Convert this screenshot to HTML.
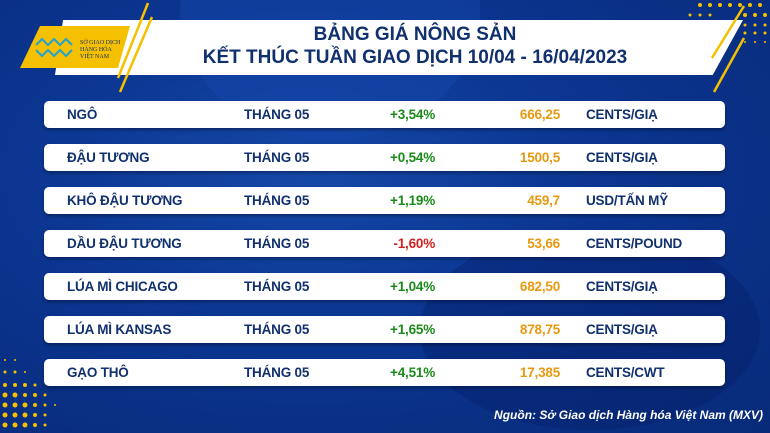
<!DOCTYPE html>
<html><head><meta charset="utf-8"><style>
html,body{margin:0;width:770px;height:433px;overflow:hidden;font-family:"Liberation Sans",sans-serif;}
.bg{position:absolute;left:0;top:0;width:770px;height:433px;background:radial-gradient(ellipse at 40% 40%,#1448a8 0%,#0b3590 45%,#082a78 100%);overflow:hidden}
.blob{position:absolute;border-radius:50%;background:rgba(20,70,170,0.5)}
.row{position:absolute;left:44px;width:681px;height:27px;background:#fff;border-radius:5px;box-shadow:0 2px 3px rgba(0,0,0,.35);font-weight:bold;font-size:13.5px;color:#11306e;letter-spacing:-0.2px}
.row span{position:absolute;top:6px;white-space:nowrap}
.n{left:23px}.t{left:200px}.p{right:290px;color:#1a8a1a}.v{right:165px;color:#e69a10}.u{left:542px}
.neg{color:#d42020!important}
.title{position:absolute;left:55px;top:20px;width:688px;height:55px;background:#fff;clip-path:polygon(0 100%,8px 0,100% 0,95.6% 100%)}
.tt{position:absolute;left:140px;width:550px;text-align:center;color:#11306e;font-weight:bold;font-size:19px}
</style></head><body><div class="bg">
<div class="blob" style="left:180px;top:-120px;width:300px;height:260px"></div>
<div class="blob" style="left:420px;top:230px;width:340px;height:200px;background:rgba(5,30,100,0.35)"></div>
<svg width="770" height="433" style="position:absolute;left:0;top:0">
<g fill="#f5c000">
<circle cx="700" cy="5" r="2"/><circle cx="710" cy="5" r="2"/><circle cx="720" cy="5" r="2"/><circle cx="730" cy="5" r="2"/><circle cx="740" cy="5" r="2"/><circle cx="750" cy="5" r="2"/><circle cx="760" cy="5" r="2"/>
<circle cx="690" cy="15" r="1.5"/><circle cx="700" cy="15" r="1.5"/><circle cx="710" cy="15" r="1.5"/><circle cx="745" cy="15" r="2"/><circle cx="755" cy="15" r="2"/><circle cx="765" cy="15" r="2"/>
<circle cx="745" cy="25" r="1.5"/><circle cx="755" cy="25" r="1.5"/><circle cx="765" cy="25" r="1.5"/><circle cx="745" cy="33" r="1.5"/><circle cx="755" cy="33" r="1.5"/><circle cx="765" cy="33" r="1.5"/>
<circle cx="745" cy="42" r="1"/><circle cx="755" cy="42" r="1"/><circle cx="765" cy="42" r="1"/>
<circle cx="5" cy="385" r="2"/><circle cx="15" cy="385" r="2"/><circle cx="25" cy="385" r="2"/><circle cx="35" cy="385" r="1.5"/>
<circle cx="5" cy="395" r="2.5"/><circle cx="15" cy="395" r="2.5"/><circle cx="25" cy="395" r="2"/><circle cx="35" cy="395" r="2"/><circle cx="45" cy="395" r="1.5"/>
<circle cx="5" cy="405" r="2.5"/><circle cx="15" cy="405" r="2.5"/><circle cx="25" cy="405" r="2.5"/><circle cx="35" cy="405" r="2"/><circle cx="45" cy="405" r="1.5"/><circle cx="55" cy="405" r="1"/>
<circle cx="5" cy="415" r="2.5"/><circle cx="15" cy="415" r="2.5"/><circle cx="25" cy="415" r="2.5"/><circle cx="35" cy="415" r="2"/><circle cx="45" cy="415" r="1.5"/>
<circle cx="5" cy="425" r="2.5"/><circle cx="15" cy="425" r="2.5"/><circle cx="25" cy="425" r="2.5"/><circle cx="35" cy="425" r="2"/><circle cx="45" cy="425" r="1.5"/>
<circle cx="5" cy="372" r="1.5"/><circle cx="15" cy="372" r="1.5"/><circle cx="25" cy="372" r="1"/><circle cx="5" cy="360" r="1"/><circle cx="15" cy="360" r="1"/>
</g></svg>
<div class="title"></div>
<svg width="770" height="433" style="position:absolute;left:0;top:0">
<polygon points="40,26 130,26 118,68 20,68" fill="#f5c000"/>
<g stroke="#f5c000" stroke-width="2.5"><line x1="148" y1="3" x2="118" y2="78"/><line x1="152" y1="17" x2="120" y2="92"/><line x1="744" y1="6" x2="712" y2="58"/><line x1="744" y1="38" x2="714" y2="92"/></g>
<g stroke="#1ea0d8" stroke-width="2" fill="none"><path d="M36 45 l6 -6 l6 6 l6 -6 l6 6 l6 -6 l6 6 M36 50 l6 6 l6 -6 l6 6 l6 -6 l6 6 l6 -6"/></g>
<text x="80" y="44" font-size="6" fill="#11306e" font-family="Liberation Serif">SỞ GIAO DỊCH</text>
<text x="80" y="51" font-size="6" fill="#11306e" font-family="Liberation Serif">HÀNG HÓA</text>
<text x="80" y="58" font-size="6" fill="#11306e" font-family="Liberation Serif">VIỆT NAM</text>
</svg>
<div class="tt" style="top:24px">BẢNG GIÁ NÔNG SẢN</div>
<div class="tt" style="top:47px">KẾT THÚC TUẦN GIAO DỊCH 10/04 - 16/04/2023</div>
<div class="row" style="top:101px"><span class="n">NGÔ</span><span class="t">THÁNG 05</span><span class="p">+3,54%</span><span class="v">666,25</span><span class="u">CENTS/GIẠ</span></div>
<div class="row" style="top:144px"><span class="n">ĐẬU TƯƠNG</span><span class="t">THÁNG 05</span><span class="p">+0,54%</span><span class="v">1500,5</span><span class="u">CENTS/GIẠ</span></div>
<div class="row" style="top:187px"><span class="n">KHÔ ĐẬU TƯƠNG</span><span class="t">THÁNG 05</span><span class="p">+1,19%</span><span class="v">459,7</span><span class="u">USD/TẤN MỸ</span></div>
<div class="row" style="top:230px"><span class="n">DẦU ĐẬU TƯƠNG</span><span class="t">THÁNG 05</span><span class="p neg">-1,60%</span><span class="v">53,66</span><span class="u">CENTS/POUND</span></div>
<div class="row" style="top:273px"><span class="n">LÚA MÌ CHICAGO</span><span class="t">THÁNG 05</span><span class="p">+1,04%</span><span class="v">682,50</span><span class="u">CENTS/GIẠ</span></div>
<div class="row" style="top:316px"><span class="n">LÚA MÌ KANSAS</span><span class="t">THÁNG 05</span><span class="p">+1,65%</span><span class="v">878,75</span><span class="u">CENTS/GIẠ</span></div>
<div class="row" style="top:359px"><span class="n">GẠO THÔ</span><span class="t">THÁNG 05</span><span class="p">+4,51%</span><span class="v">17,385</span><span class="u">CENTS/CWT</span></div>
<div style="position:absolute;right:7px;top:408px;color:#fff;font-style:italic;font-weight:bold;font-size:12px">Nguồn: Sở Giao dịch Hàng hóa Việt Nam (MXV)</div>
</div></body></html>
